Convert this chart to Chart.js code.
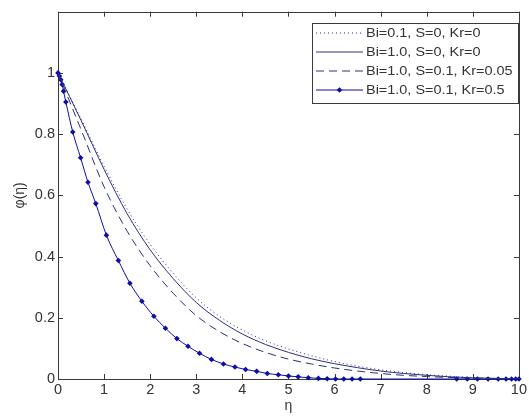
<!DOCTYPE html>
<html>
<head>
<meta charset="utf-8">
<script src="https://cdn.jsdelivr.net/npm/chart.js@4.4.0/dist/chart.umd.min.js"></script>
<style>
  html, body { margin: 0; padding: 0; background: #fff; }
</style>
</head>
<body>
<canvas id="chart" width="529" height="419"></canvas>
<script>
// eta grid for the three smooth profiles
const ETA = [0, 0.5, 1, 1.5, 2, 2.5, 3, 3.5, 4, 4.5, 5, 5.5, 6, 6.5, 7, 7.5, 8, 8.5, 9, 9.5, 10];

// Bi=0.1, S=0, Kr=0 (dotted)
const PHI_BI01 = [1, 0.85, 0.695, 0.555, 0.44, 0.345, 0.265, 0.205, 0.16, 0.125, 0.098, 0.076, 0.057, 0.042, 0.03, 0.021, 0.014, 0.009, 0.005, 0.002, 0];
// Bi=1.0, S=0, Kr=0 (solid)
const PHI_BI10 = [1, 0.845, 0.685, 0.54, 0.422, 0.328, 0.25, 0.192, 0.147, 0.113, 0.087, 0.066, 0.05, 0.037, 0.026, 0.018, 0.012, 0.007, 0.004, 0.002, 0];
// Bi=1.0, S=0.1, Kr=0.05 (dashed)
const PHI_KR005 = [1, 0.815, 0.628, 0.483, 0.37, 0.28, 0.207, 0.155, 0.116, 0.087, 0.065, 0.049, 0.036, 0.026, 0.018, 0.012, 0.008, 0.005, 0.003, 0.001, 0];

// Bi=1.0, S=0.1, Kr=0.5 (solver mesh points, with markers)
const ETA_KR05 = [0, 0.03, 0.06, 0.09, 0.12, 0.17, 0.32, 0.49, 0.65, 0.82, 1.05, 1.31, 1.56, 1.82, 2.08, 2.33, 2.58, 2.82, 3.07, 3.33, 3.59, 3.84, 4.07, 4.31, 4.54, 4.78, 5.0, 5.21, 5.43, 5.65, 5.84, 6.02, 6.2, 6.38, 6.56, 8.65, 8.88, 9.1, 9.33, 9.55, 9.72, 9.84, 9.93, 10];
const PHI_KR05 = [1, 0.99, 0.978, 0.962, 0.94, 0.905, 0.807, 0.723, 0.643, 0.573, 0.47, 0.387, 0.313, 0.254, 0.205, 0.166, 0.132, 0.107, 0.084, 0.064, 0.049, 0.039, 0.031, 0.025, 0.018, 0.014, 0.01, 0.007, 0.004, 0.002, 0.001, 0, 0, 0, 0, 0, 0, 0, 0, 0, 0, 0, 0, 0];

const LEGEND_LABELS = ['Bi=0.1, S=0, Kr=0', 'Bi=1.0, S=0, Kr=0', 'Bi=1.0, S=0.1, Kr=0.05', 'Bi=1.0, S=0.1, Kr=0.5'];

const X_TICKS = [0, 1, 2, 3, 4, 5, 6, 7, 8, 9, 10];
const Y_TICKS = [0, 0.2, 0.4, 0.6, 0.8, 1, 1.2];

const FONT = "'Liberation Sans', Arial, sans-serif";
const AXIS_COLOR = '#3a3a3a';
const TEXT_COLOR = '#333333';
const LINE_COLOR = '#2e2e82';
const MARK_COLOR = '#0d0da8';

const toPoints = (xs, ys) => xs.map((x, i) => ({ x, y: ys[i] }));

// Box + inward ticks on all four sides (matlab style)
const framePlugin = {
  id: 'frame',
  beforeDatasetsDraw(chart) {
    const { ctx, chartArea: a, scales } = chart;
    const len = 5;
    ctx.save();
    ctx.strokeStyle = AXIS_COLOR;
    ctx.lineWidth = 1;
    ctx.beginPath();
    X_TICKS.forEach((v) => {
      const px = Math.round(scales.x.getPixelForValue(v)) + 0.5;
      ctx.moveTo(px, a.bottom); ctx.lineTo(px, a.bottom - len);
      ctx.moveTo(px, a.top); ctx.lineTo(px, a.top + len);
    });
    Y_TICKS.forEach((v) => {
      const py = Math.round(scales.y.getPixelForValue(v)) + 0.5;
      ctx.moveTo(a.left, py); ctx.lineTo(a.left + len, py);
      ctx.moveTo(a.right, py); ctx.lineTo(a.right - len, py);
    });
    ctx.stroke();
    ctx.strokeRect(Math.round(a.left) + 0.5, Math.round(a.top) + 0.5,
      Math.round(a.right - a.left), Math.round(a.bottom - a.top));
    ctx.restore();
  },
};

// Legend box in the upper right corner
const legendPlugin = {
  id: 'boxLegend',
  afterDraw(chart) {
    const { ctx } = chart;
    const box = { x: 312.5, y: 23.5, w: 206, h: 80 };
    ctx.save();
    ctx.fillStyle = '#fff';
    ctx.fillRect(box.x, box.y, box.w, box.h);
    ctx.strokeStyle = AXIS_COLOR;
    ctx.lineWidth = 1;
    ctx.strokeRect(box.x, box.y, box.w, box.h);
    ctx.font = '13.5px ' + FONT;
    ctx.textBaseline = 'middle';
    chart.data.datasets.forEach((ds, i) => {
      const y = 33 + i * 19;
      ctx.strokeStyle = ds.borderColor;
      ctx.lineWidth = ds.borderWidth;
      ctx.setLineDash(ds.borderDash || []);
      ctx.beginPath();
      ctx.moveTo(316, y);
      ctx.lineTo(363, y);
      ctx.stroke();
      ctx.setLineDash([]);
      if (ds.pointRadius > 0) {
        const r = ds.pointRadius;
        ctx.fillStyle = ds.pointBackgroundColor;
        ctx.beginPath();
        ctx.moveTo(339.5, y - r); ctx.lineTo(339.5 + r, y);
        ctx.lineTo(339.5, y + r); ctx.lineTo(339.5 - r, y);
        ctx.closePath();
        ctx.fill();
      }
      // the source figure is stretched horizontally, so widen the text a bit
      ctx.save();
      ctx.translate(366, y + 0.5);
      ctx.scale(1.07, 1);
      ctx.fillStyle = TEXT_COLOR;
      ctx.fillText(ds.label, 0, 0);
      ctx.restore();
    });
    ctx.restore();
  },
};

new Chart(document.getElementById('chart'), {
  type: 'line',
  data: {
    datasets: [
      {
        label: LEGEND_LABELS[0],
        data: toPoints(ETA, PHI_BI01),
        borderColor: LINE_COLOR,
        borderWidth: 1,
        borderDash: [1, 3],
        pointRadius: 0,
        cubicInterpolationMode: 'monotone',
      },
      {
        label: LEGEND_LABELS[1],
        data: toPoints(ETA, PHI_BI10),
        borderColor: LINE_COLOR,
        borderWidth: 1,
        pointRadius: 0,
        cubicInterpolationMode: 'monotone',
      },
      {
        label: LEGEND_LABELS[2],
        data: toPoints(ETA, PHI_KR005),
        borderColor: LINE_COLOR,
        borderWidth: 1,
        borderDash: [8, 5],
        pointRadius: 0,
        cubicInterpolationMode: 'monotone',
      },
      {
        label: LEGEND_LABELS[3],
        data: toPoints(ETA_KR05, PHI_KR05),
        borderColor: MARK_COLOR,
        borderWidth: 1,
        pointStyle: 'rectRot',
        pointRadius: 2.8,
        pointBackgroundColor: MARK_COLOR,
        pointBorderColor: MARK_COLOR,
        pointBorderWidth: 0,
        cubicInterpolationMode: 'monotone',
        clip: false,
      },
    ],
  },
  options: {
    responsive: false,
    animation: false,
    layout: { padding: { top: 10, right: 9, left: 0, bottom: 0 } },
    plugins: {
      legend: { display: false },
      tooltip: { enabled: false },
    },
    scales: {
      x: {
        type: 'linear',
        min: 0,
        max: 10,
        afterFit: (s) => { s.height = 40; },
        afterBuildTicks: (s) => { s.ticks = X_TICKS.map((v) => ({ value: v })); },
        grid: { display: false, drawTicks: false },
        border: { display: false },
        ticks: {
          color: TEXT_COLOR,
          font: { family: FONT, size: 14.5 },
          padding: 2,
          maxRotation: 0,
        },
        title: {
          display: true,
          text: 'η',
          color: TEXT_COLOR,
          font: { family: FONT, size: 14 },
          padding: { top: 0, bottom: 4 },
        },
      },
      y: {
        type: 'linear',
        min: 0,
        max: 1.2,
        afterFit: (s) => { s.width = 58; },
        afterBuildTicks: (s) => { s.ticks = Y_TICKS.map((v) => ({ value: v })); },
        grid: { display: false, drawTicks: false },
        border: { display: false },
        ticks: {
          color: TEXT_COLOR,
          font: { family: FONT, size: 14.5 },
          padding: 3,
          callback: (v) => (v > 1.1 ? '' : String(Number(v.toFixed(1)))),
        },
        title: {
          display: true,
          text: 'φ(η)',
          color: TEXT_COLOR,
          font: { family: FONT, size: 14 },
          padding: { top: 12, bottom: 0 },
        },
      },
    },
  },
  plugins: [framePlugin, legendPlugin],
});
</script>
</body>
</html>
